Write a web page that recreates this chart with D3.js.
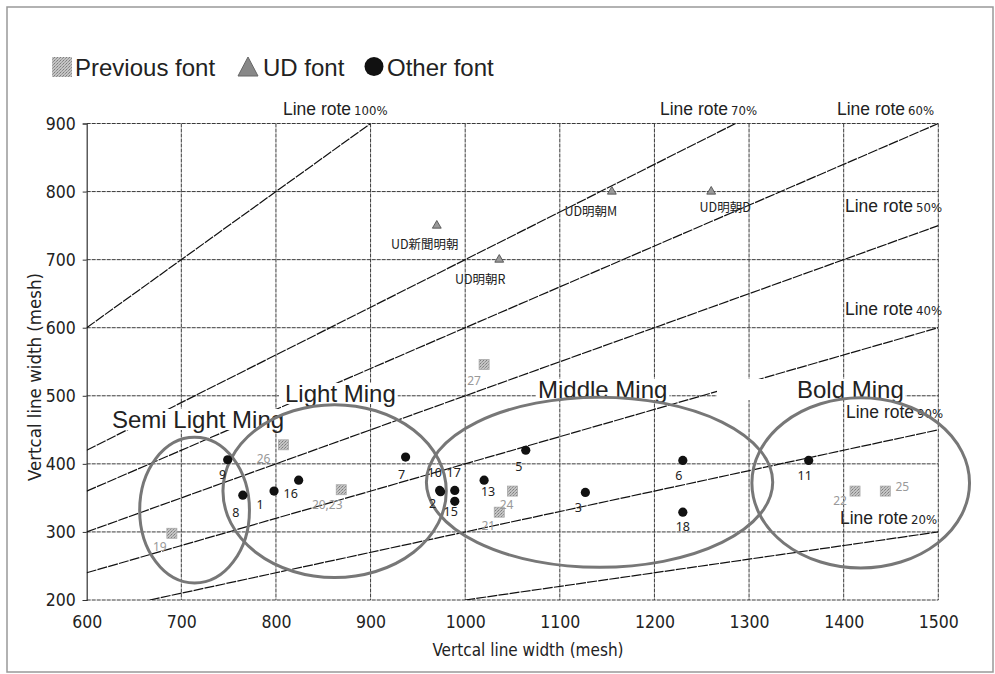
<!DOCTYPE html>
<html><head><meta charset="utf-8">
<script src="https://cdn.jsdelivr.net/npm/d3@7"></script>
<style>body{margin:0;background:#fff}</style>
</head><body><svg id="c" width="995" height="674"></svg>
<script>
// ---------- data ----------
const xTicks = [600,700,800,900,1000,1100,1200,1300,1400,1500];
const yTicks = [200,300,400,500,600,700,800,900];

const otherNames = ["1","2","3","5","6","7","8","9","10","11","13","15","16","17","18"];
const otherX     = [798, 974,1127,1064,1230, 937, 765, 749, 973,1363,1020, 989, 824, 989,1230];
const otherY     = [360, 359, 358, 420, 405, 410, 354, 406, 361, 405, 376, 345, 376, 361, 329];

const prevNames = ["19","20,23","21","22","24","25","26","27"];
const prevX     = [690, 869,1036,1412,1050,1444, 808,1020];
const prevY     = [298, 362, 329, 360, 360, 360, 428, 546];

const udNames = ["UD新聞明朝","UD明朝R","UD明朝M","UD明朝D"];
const udX     = [970,1036,1155,1260];
const udY     = [750, 700, 800, 800];

const rateValues = [1.0, 0.7, 0.6, 0.5, 0.4, 0.3, 0.2];
const rateLabels = ["100%","70%","60%","50%","40%","90%","20%"];

const groupNames = ["Semi Light Ming","Light Ming","Middle Ming","Bold Ming"];
const groupCx = [714, 862, 1142, 1418];
const groupCy = [332, 360, 373, 372];
const groupRx = [58, 118, 183, 115];
const groupRy = [107, 127, 125, 125];

const legendNames = ["Previous font","UD font","Other font"];

// ---------- layout (pixel offsets, not data) ----------
const otherLabelOff = {"1":[-14,13],"2":[-8,12],"3":[-7,15],"5":[-7,16],"6":[-4,15],"7":[-4,17],"8":[-7,17],"9":[-5,15],
  "10":[-5,-18],"11":[-4,15],"13":[4,11],"15":[-4,10],"16":[-8,13],"17":[-1,-18],"18":[0,14]};
const prevLabelOff = {"19":[-12,13],"20,23":[-14,15],"21":[-11,13],"22":[-15,9],"24":[-6,13],"25":[17,-5],"26":[-20,14],"27":[-10,16]};
const udLabelOff = [[-12,18],[-19,19],[-21,19],[14,15]];
const rateLabelPos = [[283,115],[660,115],[837,115],[845,212],[845,315],[846,418],[840,524]];
const groupLabelPos = [[112,428],[285,402],[538,398],[797,398]];
const groupBoxExtraLeft = [2,6,2,80];

// ---------- drawing ----------
const svg = d3.select("#c");
const x = d3.scaleLinear().domain([600,1500]).range([86.7,938.3]);
const y = d3.scaleLinear().domain([200,900]).range([600,123.5]);
const FONT = "'Liberation Sans', Arial, sans-serif";
const NARROW = "'DejaVu Sans Condensed', 'DejaVu Sans', sans-serif";

const defs = svg.append("defs");
const pat = defs.append("pattern").attr("id","tex").attr("width",3).attr("height",3).attr("patternUnits","userSpaceOnUse");
pat.append("rect").attr("width",3).attr("height",3).attr("fill","#c4c4c4");
pat.append("rect").attr("width",1).attr("height",1).attr("fill","#7d7d7d");
pat.append("rect").attr("x",2).attr("y",1).attr("width",1).attr("height",1).attr("fill","#8f8f8f");
pat.append("rect").attr("x",1).attr("y",2).attr("width",1).attr("height",1).attr("fill","#a0a0a0");
defs.append("clipPath").attr("id","plotclip").append("rect")
  .attr("x",x(600)).attr("y",y(900)).attr("width",x(1500)-x(600)).attr("height",y(200)-y(900));

// outer frame
svg.append("rect").attr("x",7).attr("y",7).attr("width",986).attr("height",665)
  .attr("fill","none").attr("stroke","#999").attr("stroke-width",1.5);

// grid
const grid = svg.append("g");
grid.selectAll("line.v").data(xTicks.slice(1)).join("line").attr("class","v")
  .attr("x1",d=>x(d)).attr("x2",d=>x(d)).attr("y1",y(900)).attr("y2",y(200))
  .attr("stroke","#3a3a3a").attr("stroke-width",1).attr("stroke-dasharray","4,1");
grid.selectAll("line.h").data(yTicks).join("line").attr("class","h")
  .attr("x1",x(600)).attr("x2",x(1500)).attr("y1",d=>y(d)).attr("y2",d=>y(d))
  .attr("stroke","#3a3a3a").attr("stroke-width",1).attr("stroke-dasharray","4,1");

// axes
const yAxis = svg.append("g").attr("transform",`translate(${x(600)},0)`)
  .call(d3.axisLeft(y).tickValues(yTicks).tickSize(4).tickPadding(7).tickFormat(d3.format("d")));
yAxis.select(".domain").attr("stroke","#333").attr("stroke-width",1.2);
yAxis.selectAll(".tick line").attr("stroke","#333");
yAxis.selectAll("text").attr("font-family",NARROW).attr("font-size",17.5).attr("fill","#222");
const xAxis = svg.append("g").attr("transform",`translate(0,${y(200)})`)
  .call(d3.axisBottom(x).tickValues(xTicks).tickSize(0).tickPadding(16).tickFormat(d3.format("d")));
xAxis.select(".domain").remove();
xAxis.selectAll("text").attr("font-family",NARROW).attr("font-size",17.5).attr("fill","#222");

svg.append("text").attr("x",528).attr("y",656).attr("text-anchor","middle")
  .attr("font-family",NARROW).attr("font-size",17).attr("fill","#222").text("Vertcal line width (mesh)");
svg.append("text").attr("transform","translate(41,377) rotate(-90)").attr("text-anchor","middle")
  .attr("font-family",NARROW).attr("font-size",18.5).attr("fill","#222").text("Vertcal line width (mesh)");

// ratio lines
const line = d3.line().x(d=>x(d[0])).y(d=>y(d[1]));
svg.append("g").attr("clip-path","url(#plotclip)").selectAll("path").data(rateValues).join("path")
  .attr("d", r => {
    const x0 = Math.max(600, 200/r), x1 = Math.min(1500, 900/r);
    return line([[x0, r*x0],[x1, r*x1]]);
  })
  .attr("fill","none").attr("stroke","#111").attr("stroke-width",1.2).attr("stroke-dasharray","10,1.2");

// rate labels
const rl = svg.append("g");
rateValues.forEach((r,i)=>{
  const t = rl.append("text").attr("x",rateLabelPos[i][0]).attr("y",rateLabelPos[i][1])
    .attr("font-family",FONT).attr("font-size",17.5).attr("fill","#222");
  t.append("tspan").text("Line rote");
  t.append("tspan").attr("dx",3).attr("font-size",13).attr("font-family",NARROW).text(rateLabels[i]);
});

// group labels with white boxes
const gl = svg.append("g");
groupNames.forEach((n,i)=>{
  const box = gl.append("rect").attr("fill","#fff");
  const t = gl.append("text").attr("x",groupLabelPos[i][0]).attr("y",groupLabelPos[i][1])
    .attr("font-family",FONT).attr("font-size",24).attr("fill","#222").text(n);
  const b = t.node().getBBox();
  box.attr("x",b.x-groupBoxExtraLeft[i]).attr("y",b.y+3).attr("width",b.width+groupBoxExtraLeft[i]+2).attr("height",b.height-6);
});

// ellipses
svg.append("g").selectAll("ellipse").data(groupNames).join("ellipse")
  .attr("cx",(d,i)=>x(groupCx[i])).attr("cy",(d,i)=>y(groupCy[i]))
  .attr("rx",(d,i)=>x(groupCx[i]+groupRx[i])-x(groupCx[i]))
  .attr("ry",(d,i)=>y(groupCy[i]-groupRy[i])-y(groupCy[i]))
  .attr("fill","none").attr("stroke","#777").attr("stroke-width",3);

// previous font squares
const pg = svg.append("g");
pg.selectAll("rect").data(prevNames).join("rect")
  .attr("x",(d,i)=>x(prevX[i])-5).attr("y",(d,i)=>y(prevY[i])-5).attr("width",10).attr("height",10)
  .attr("fill","url(#tex)").attr("stroke","#aaa").attr("stroke-width",0.8);
pg.selectAll("text").data(prevNames).join("text")
  .attr("x",(d,i)=>x(prevX[i])+prevLabelOff[d][0]).attr("y",(d,i)=>y(prevY[i])+prevLabelOff[d][1])
  .attr("text-anchor","middle").attr("dominant-baseline","central")
  .attr("font-family","'Noto Sans', sans-serif").attr("font-size",12).attr("fill","#999").text(d=>d);

// other font circles
const og = svg.append("g");
og.selectAll("circle").data(otherNames).join("circle")
  .attr("cx",(d,i)=>x(otherX[i])).attr("cy",(d,i)=>y(otherY[i])).attr("r",4.6).attr("fill","#111");
og.selectAll("text").data(otherNames).join("text")
  .attr("x",(d,i)=>x(otherX[i])+otherLabelOff[d][0]).attr("y",(d,i)=>y(otherY[i])+otherLabelOff[d][1])
  .attr("text-anchor","middle").attr("dominant-baseline","central")
  .attr("font-family","'Noto Sans', sans-serif").attr("font-size",12.5).attr("fill","#222").text(d=>d);

// UD triangles
const tri = d3.symbol().type(d3.symbolTriangle).size(34);
const ug = svg.append("g");
ug.selectAll("path").data(udNames).join("path")
  .attr("transform",(d,i)=>`translate(${x(udX[i])},${y(udY[i])})`).attr("d",tri)
  .attr("fill","#999").attr("stroke","#444").attr("stroke-width",0.8);
ug.selectAll("text").data(udNames).join("text")
  .attr("x",(d,i)=>x(udX[i])+udLabelOff[i][0]).attr("y",(d,i)=>y(udY[i])+udLabelOff[i][1])
  .attr("text-anchor","middle").attr("dominant-baseline","central")
  .attr("font-family","'Noto Sans CJK JP', sans-serif").attr("font-size",12.5).attr("fill","#222").text(d=>d);

// legend
const lg = svg.append("g").attr("font-family",FONT).attr("font-size",24).attr("fill","#222");
lg.append("rect").attr("x",52).attr("y",57).attr("width",20).attr("height",20).attr("fill","url(#tex)");
lg.append("text").attr("x",75).attr("y",76).text(legendNames[0]);
lg.append("path").attr("d","M248,57 L258,76 L238,76 Z").attr("fill","#888").attr("stroke","#666");
lg.append("text").attr("x",263).attr("y",76).text(legendNames[1]);
lg.append("circle").attr("cx",374).attr("cy",66.5).attr("r",9.5).attr("fill","#111");
lg.append("text").attr("x",387).attr("y",76).text(legendNames[2]);
</script></body></html>
